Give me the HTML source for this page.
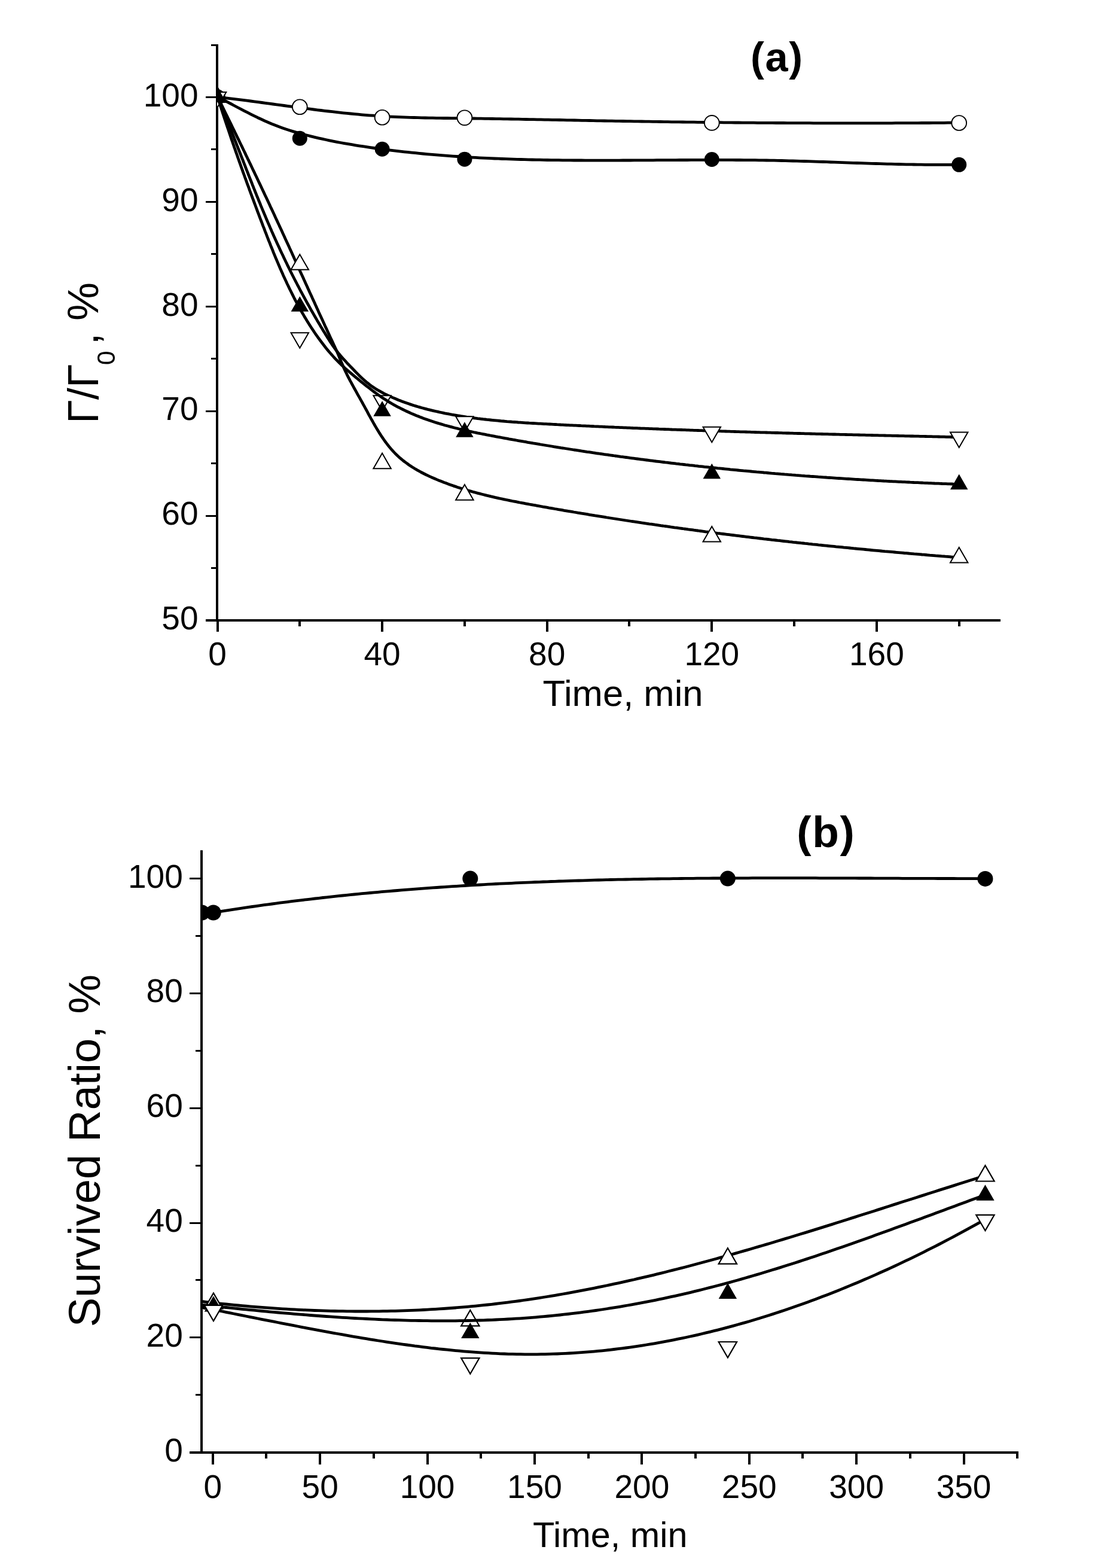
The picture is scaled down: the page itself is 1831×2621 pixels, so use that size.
<!DOCTYPE html>
<html><head><meta charset="utf-8"><title>Figure</title>
<style>html,body{margin:0;padding:0;background:#fff;}svg{display:block;}</style></head><body>
<svg width="1831" height="2621" viewBox="0 0 1831 2621">
<rect x="0" y="0" width="1831" height="2621" fill="#fff"/>
<defs><clipPath id="clipA"><rect x="363" y="60" width="1320" height="980"/></clipPath><clipPath id="clipB"><rect x="337" y="1400" width="1370" height="1030"/></clipPath></defs>
<g stroke="#000" fill="none" stroke-linecap="butt">
<line x1="363" y1="74" x2="363" y2="1039" stroke-width="4"/>
<line x1="344" y1="1037" x2="1673" y2="1037" stroke-width="4"/>
<line x1="344" y1="1036.5" x2="363" y2="1036.5" stroke-width="3"/>
<line x1="344" y1="862.5" x2="363" y2="862.5" stroke-width="3"/>
<line x1="344" y1="687.5" x2="363" y2="687.5" stroke-width="3"/>
<line x1="344" y1="512.5" x2="363" y2="512.5" stroke-width="3"/>
<line x1="344" y1="337.5" x2="363" y2="337.5" stroke-width="3"/>
<line x1="344" y1="162.5" x2="363" y2="162.5" stroke-width="3"/>
<line x1="353" y1="949.5" x2="363" y2="949.5" stroke-width="3"/>
<line x1="353" y1="774.5" x2="363" y2="774.5" stroke-width="3"/>
<line x1="353" y1="599.5" x2="363" y2="599.5" stroke-width="3"/>
<line x1="353" y1="424.5" x2="363" y2="424.5" stroke-width="3"/>
<line x1="353" y1="249.5" x2="363" y2="249.5" stroke-width="3"/>
<line x1="353" y1="75.5" x2="363" y2="75.5" stroke-width="3"/>
<line x1="364.0" y1="1037" x2="364.0" y2="1056" stroke-width="4"/>
<line x1="639.0" y1="1037" x2="639.0" y2="1056" stroke-width="4"/>
<line x1="915.0" y1="1037" x2="915.0" y2="1056" stroke-width="4"/>
<line x1="1190.0" y1="1037" x2="1190.0" y2="1056" stroke-width="4"/>
<line x1="1466.0" y1="1037" x2="1466.0" y2="1056" stroke-width="4"/>
<line x1="501.0" y1="1037" x2="501.0" y2="1047" stroke-width="4"/>
<line x1="777.0" y1="1037" x2="777.0" y2="1047" stroke-width="4"/>
<line x1="1052.0" y1="1037" x2="1052.0" y2="1047" stroke-width="4"/>
<line x1="1328.0" y1="1037" x2="1328.0" y2="1047" stroke-width="4"/>
<line x1="1604.0" y1="1037" x2="1604.0" y2="1047" stroke-width="4"/>
</g>
<g font-family="Liberation Sans, Arial, Helvetica, sans-serif" font-size="55" fill="#000">
<text x="331.5" y="1052.20" text-anchor="end">50</text>
<text x="331.5" y="877.30" text-anchor="end">60</text>
<text x="331.5" y="702.40" text-anchor="end">70</text>
<text x="331.5" y="527.50" text-anchor="end">80</text>
<text x="331.5" y="352.60" text-anchor="end">90</text>
<text x="331.5" y="177.70" text-anchor="end">100</text>
<text x="363.50" y="1112" text-anchor="middle">0</text>
<text x="639.10" y="1112" text-anchor="middle">40</text>
<text x="914.70" y="1112" text-anchor="middle">80</text>
<text x="1190.30" y="1112" text-anchor="middle">120</text>
<text x="1465.90" y="1112" text-anchor="middle">160</text>
</g>
<text font-family="Liberation Sans, Arial, Helvetica, sans-serif" font-size="61.6" x="1041.6" y="1180" text-anchor="middle">Time, min</text>
<text font-family="Liberation Sans, Arial, Helvetica, sans-serif" font-size="68.5" font-weight="bold" letter-spacing="1.6" x="1299.3" y="118.6" text-anchor="middle">(a)</text>
<text font-family="Liberation Sans, Arial, Helvetica, sans-serif" font-size="72" transform="translate(164,708) rotate(-90)">Γ/Γ<tspan font-size="43.2" dy="27.5" dx="-1.5">0</tspan><tspan dy="-27.5" x="131.5">,</tspan><tspan x="172">%</tspan></text>
<g clip-path="url(#clipA)">
<path d="M363.5,162.3 L369.7,163.0 L375.9,163.7 L382.1,164.4 L388.3,165.1 L394.5,165.9 L400.7,166.6 L406.9,167.4 L413.1,168.2 L419.3,169.0 L425.5,169.8 L431.7,170.6 L437.9,171.5 L444.0,172.3 L450.2,173.1 L456.4,174.0 L462.6,174.8 L468.8,175.6 L475.0,176.5 L481.2,177.3 L487.4,178.1 L493.6,179.0 L499.8,179.8 L505.9,180.6 L512.1,181.4 L518.3,182.2 L524.5,183.0 L530.7,183.8 L536.9,184.5 L543.1,185.3 L549.3,186.0 L555.5,186.7 L561.7,187.4 L567.9,188.1 L574.1,188.8 L580.3,189.4 L586.5,190.0 L592.7,190.6 L598.9,191.2 L605.1,191.8 L611.3,192.3 L617.6,192.8 L623.8,193.2 L630.0,193.7 L636.2,194.1 L642.4,194.5 L648.7,194.8 L654.9,195.1 L661.1,195.4 L667.3,195.7 L673.6,195.9 L679.8,196.2 L686.0,196.4 L692.3,196.5 L698.5,196.7 L704.7,196.8 L711.0,197.0 L717.2,197.1 L723.4,197.2 L729.7,197.3 L735.9,197.4 L742.2,197.5 L748.4,197.5 L754.6,197.6 L760.9,197.7 L767.1,197.7 L773.4,197.8 L779.6,197.9 L785.9,198.0 L792.1,198.0 L798.3,198.1 L804.6,198.2 L810.8,198.3 L817.1,198.4 L823.3,198.5 L829.6,198.6 L835.8,198.7 L842.1,198.8 L848.3,198.9 L854.5,199.0 L860.8,199.1 L867.0,199.2 L873.3,199.3 L879.5,199.5 L885.8,199.6 L892.0,199.7 L898.2,199.8 L904.5,199.9 L910.7,200.1 L917.0,200.2 L923.2,200.3 L929.5,200.4 L935.7,200.5 L942.0,200.7 L948.2,200.8 L954.4,200.9 L960.7,201.0 L966.9,201.2 L973.2,201.3 L979.4,201.4 L985.7,201.5 L991.9,201.6 L998.1,201.8 L1004.4,201.9 L1010.6,202.0 L1016.9,202.1 L1023.1,202.2 L1029.4,202.3 L1035.6,202.4 L1041.8,202.5 L1048.1,202.6 L1054.3,202.7 L1060.6,202.8 L1066.8,202.9 L1073.1,203.0 L1079.3,203.1 L1085.5,203.2 L1091.8,203.3 L1098.0,203.4 L1104.3,203.5 L1110.5,203.6 L1116.8,203.7 L1123.0,203.8 L1129.2,203.8 L1135.5,203.9 L1141.7,204.0 L1148.0,204.1 L1154.2,204.2 L1160.5,204.2 L1166.7,204.3 L1172.9,204.4 L1179.2,204.5 L1185.4,204.5 L1191.7,204.6 L1197.9,204.7 L1204.1,204.7 L1210.4,204.8 L1216.6,204.8 L1222.9,204.9 L1229.1,205.0 L1235.4,205.0 L1241.6,205.1 L1247.8,205.1 L1254.1,205.2 L1260.3,205.2 L1266.6,205.3 L1272.8,205.3 L1279.1,205.4 L1285.3,205.4 L1291.5,205.4 L1297.8,205.5 L1304.0,205.5 L1310.3,205.5 L1316.5,205.6 L1322.7,205.6 L1329.0,205.6 L1335.2,205.7 L1341.5,205.7 L1347.7,205.7 L1354.0,205.7 L1360.2,205.8 L1366.4,205.8 L1372.7,205.8 L1378.9,205.8 L1385.2,205.8 L1391.4,205.8 L1397.7,205.8 L1403.9,205.8 L1410.1,205.9 L1416.4,205.9 L1422.6,205.9 L1428.9,205.9 L1435.1,205.9 L1441.4,205.9 L1447.6,205.8 L1453.8,205.8 L1460.1,205.8 L1466.3,205.8 L1472.6,205.8 L1478.8,205.8 L1485.1,205.8 L1491.3,205.8 L1497.5,205.7 L1503.8,205.7 L1510.0,205.7 L1516.3,205.7 L1522.5,205.6 L1528.8,205.6 L1535.0,205.6 L1541.3,205.5 L1547.5,205.5 L1553.7,205.5 L1560.0,205.4 L1566.2,205.4 L1572.5,205.3 L1578.7,205.3 L1585.0,205.2 L1591.2,205.2 L1597.5,205.1 L1603.7,205.1" fill="none" stroke="#000" stroke-width="4.8" stroke-linejoin="round"/>
<circle cx="363.50" cy="162.50" r="12.40" fill="#fff" stroke="#000" stroke-width="1.9"/>
<circle cx="501.30" cy="178.75" r="12.40" fill="#fff" stroke="#000" stroke-width="1.9"/>
<circle cx="639.10" cy="196.25" r="12.40" fill="#fff" stroke="#000" stroke-width="1.9"/>
<circle cx="776.90" cy="196.80" r="12.40" fill="#fff" stroke="#000" stroke-width="1.9"/>
<circle cx="1190.30" cy="205.40" r="12.40" fill="#fff" stroke="#000" stroke-width="1.9"/>
<circle cx="1603.70" cy="205.50" r="12.40" fill="#fff" stroke="#000" stroke-width="1.9"/>
<path d="M363.9,161.7 L369.4,164.6 L375.0,167.6 L380.5,170.6 L386.1,173.5 L391.6,176.5 L397.2,179.5 L402.8,182.4 L408.4,185.3 L414.1,188.2 L419.7,191.1 L425.4,193.9 L431.1,196.7 L436.8,199.3 L442.5,202.0 L448.3,204.5 L454.1,207.0 L460.0,209.3 L465.8,211.6 L471.7,213.7 L477.7,215.8 L483.7,217.7 L489.7,219.6 L495.7,221.4 L501.8,223.1 L507.9,224.7 L514.0,226.3 L520.1,227.9 L526.2,229.4 L532.4,230.8 L538.5,232.2 L544.7,233.5 L550.9,234.8 L557.1,236.1 L563.3,237.3 L569.5,238.5 L575.7,239.6 L582.0,240.7 L588.2,241.7 L594.5,242.8 L600.7,243.8 L607.0,244.7 L613.2,245.7 L619.5,246.6 L625.8,247.5 L632.0,248.3 L638.3,249.2 L644.6,250.0 L650.8,250.8 L657.1,251.6 L663.4,252.3 L669.7,253.1 L675.9,253.8 L682.2,254.4 L688.5,255.1 L694.8,255.7 L701.1,256.4 L707.4,257.0 L713.6,257.6 L719.9,258.1 L726.2,258.7 L732.5,259.2 L738.8,259.7 L745.1,260.2 L751.4,260.6 L757.7,261.1 L764.0,261.5 L770.3,261.9 L776.6,262.3 L782.8,262.7 L789.1,263.1 L795.4,263.4 L801.7,263.8 L808.0,264.1 L814.3,264.4 L820.6,264.7 L827.0,265.0 L833.3,265.2 L839.6,265.5 L845.9,265.7 L852.2,265.9 L858.5,266.1 L864.8,266.3 L871.1,266.5 L877.4,266.7 L883.7,266.8 L890.0,267.0 L896.3,267.1 L902.6,267.2 L909.0,267.4 L915.3,267.5 L921.6,267.6 L927.9,267.7 L934.2,267.7 L940.5,267.8 L946.8,267.9 L953.1,267.9 L959.5,268.0 L965.8,268.0 L972.1,268.0 L978.4,268.1 L984.7,268.1 L991.0,268.1 L997.4,268.1 L1003.7,268.1 L1010.0,268.1 L1016.3,268.1 L1022.6,268.1 L1029.0,268.1 L1035.3,268.1 L1041.6,268.0 L1047.9,268.0 L1054.2,268.0 L1060.6,267.9 L1066.9,267.9 L1073.2,267.9 L1079.5,267.8 L1085.8,267.8 L1092.2,267.8 L1098.5,267.7 L1104.8,267.7 L1111.1,267.7 L1117.4,267.6 L1123.8,267.6 L1130.1,267.6 L1136.4,267.5 L1142.7,267.5 L1149.0,267.5 L1155.4,267.4 L1161.7,267.4 L1168.0,267.4 L1174.3,267.4 L1180.6,267.4 L1187.0,267.4 L1193.3,267.4 L1199.6,267.4 L1205.9,267.4 L1212.2,267.4 L1218.6,267.4 L1224.9,267.4 L1231.2,267.5 L1237.5,267.5 L1243.8,267.6 L1250.1,267.6 L1256.5,267.7 L1262.8,267.7 L1269.1,267.8 L1275.4,267.9 L1281.7,268.0 L1288.0,268.1 L1294.3,268.2 L1300.7,268.4 L1307.0,268.5 L1313.3,268.6 L1319.6,268.8 L1325.9,269.0 L1332.2,269.1 L1338.5,269.3 L1344.8,269.5 L1351.2,269.7 L1357.5,269.9 L1363.8,270.1 L1370.1,270.3 L1376.4,270.5 L1382.7,270.7 L1389.0,271.0 L1395.3,271.2 L1401.6,271.4 L1407.9,271.6 L1414.2,271.8 L1420.6,272.1 L1426.9,272.3 L1433.2,272.5 L1439.5,272.7 L1445.8,272.9 L1452.1,273.1 L1458.4,273.3 L1464.7,273.5 L1471.0,273.7 L1477.4,273.9 L1483.7,274.1 L1490.0,274.2 L1496.3,274.4 L1502.6,274.5 L1508.9,274.7 L1515.2,274.8 L1521.5,274.9 L1527.9,275.0 L1534.2,275.1 L1540.5,275.2 L1546.8,275.3 L1553.1,275.4 L1559.4,275.4 L1565.8,275.4 L1572.1,275.4 L1578.4,275.4 L1584.7,275.4 L1591.1,275.4 L1597.4,275.3 L1603.7,275.2" fill="none" stroke="#000" stroke-width="4.8" stroke-linejoin="round"/>
<circle cx="363.50" cy="162.50" r="12.50" fill="#000"/>
<circle cx="501.30" cy="231.25" r="12.50" fill="#000"/>
<circle cx="639.10" cy="249.25" r="12.50" fill="#000"/>
<circle cx="776.90" cy="266.20" r="12.50" fill="#000"/>
<circle cx="1190.30" cy="266.50" r="12.50" fill="#000"/>
<circle cx="1603.70" cy="275.30" r="12.50" fill="#000"/>
<path d="M363.9,162.2 L365.4,165.2 L366.9,168.1 L368.3,171.1 L369.8,174.0 L371.2,176.9 L372.7,179.9 L374.1,182.8 L375.6,185.8 L377.0,188.7 L378.4,191.6 L379.9,194.6 L381.3,197.5 L382.8,200.5 L384.2,203.4 L385.7,206.3 L387.1,209.3 L388.5,212.2 L390.0,215.2 L391.4,218.1 L392.8,221.1 L394.3,224.0 L395.7,227.0 L397.1,229.9 L398.6,232.8 L400.0,235.8 L401.4,238.7 L402.9,241.7 L404.3,244.6 L405.7,247.6 L407.1,250.5 L408.6,253.5 L410.0,256.4 L411.4,259.4 L412.8,262.3 L414.2,265.3 L415.7,268.2 L417.1,271.2 L418.5,274.1 L419.9,277.1 L421.3,280.0 L422.7,283.0 L424.1,285.9 L425.6,288.9 L427.0,291.9 L428.4,294.8 L429.8,297.8 L431.2,300.7 L432.6,303.7 L434.0,306.6 L435.4,309.6 L436.8,312.6 L438.2,315.5 L439.6,318.5 L441.0,321.4 L442.4,324.4 L443.8,327.4 L445.2,330.3 L446.6,333.3 L448.0,336.3 L449.4,339.2 L450.8,342.2 L452.1,345.2 L453.5,348.1 L454.9,351.1 L456.3,354.1 L457.7,357.0 L459.1,360.0 L460.4,363.0 L461.8,366.0 L463.2,368.9 L464.6,371.9 L466.0,374.9 L467.3,377.9 L468.7,380.8 L470.1,383.8 L471.5,386.8 L472.8,389.8 L474.2,392.7 L475.6,395.7 L476.9,398.7 L478.3,401.7 L479.7,404.7 L481.0,407.6 L482.4,410.6 L483.8,413.6 L485.1,416.6 L486.5,419.6 L487.9,422.6 L489.2,425.5 L490.6,428.5 L491.9,431.5 L493.3,434.5 L494.7,437.5 L496.0,440.5 L497.4,443.4 L498.7,446.4 L500.1,449.4 L501.4,452.4 L502.8,455.4 L504.2,458.4 L505.5,461.3 L506.9,464.3 L508.2,467.3 L509.6,470.3 L510.9,473.3 L512.3,476.3 L513.7,479.2 L515.0,482.2 L516.4,485.2 L517.7,488.2 L519.1,491.2 L520.4,494.1 L521.8,497.1 L523.1,500.1 L524.5,503.1 L525.9,506.0 L527.2,509.0 L528.6,512.0 L529.9,515.0 L531.3,517.9 L532.6,520.9 L534.0,523.9 L535.4,526.9 L536.7,529.8 L538.1,532.8 L539.5,535.8 L540.8,538.7 L542.2,541.7 L543.5,544.7 L544.9,547.6 L546.3,550.6 L547.6,553.5 L549.0,556.5 L550.4,559.5 L551.7,562.4 L553.1,565.4 L554.5,568.3 L555.9,571.3 L557.2,574.2 L558.6,577.2 L560.0,580.1 L561.3,583.1 L562.7,586.0 L564.0,589.0 L565.3,592.0 L566.6,595.0 L567.8,598.0 L569.0,601.0 L570.2,604.0 L571.5,607.0 L572.8,610.0 L574.1,613.0 L575.4,616.0 L576.8,619.0 L578.2,622.0 L579.7,624.9 L581.1,627.9 L582.6,630.8 L584.1,633.7 L585.6,636.6 L587.2,639.4 L588.7,642.3 L590.3,645.1 L591.8,648.0 L593.4,650.8 L595.0,653.6 L596.5,656.4 L598.1,659.3 L599.7,662.1 L601.3,664.9 L602.9,667.8 L604.5,670.6 L606.1,673.5 L607.6,676.3 L609.2,679.2 L610.8,682.1 L612.4,685.0 L614.0,687.9 L615.5,690.8 L617.1,693.8 L618.7,696.7 L620.3,699.6 L622.0,702.5 L623.6,705.4 L625.2,708.3 L626.9,711.2 L628.6,714.1 L630.3,716.9 L632.0,719.8 L633.7,722.6 L635.5,725.4 L637.3,728.2 L639.1,730.9 L641.0,733.7 L642.9,736.3 L644.8,739.0 L646.8,741.6 L648.8,744.2 L650.8,746.7 L652.9,749.2 L655.0,751.7 L657.2,754.1 L659.4,756.5 L661.6,758.8 L663.9,761.0 L666.3,763.2 L668.7,765.4 L671.1,767.4 L673.6,769.5 L676.2,771.5 L678.8,773.4 L681.4,775.3 L684.0,777.2 L686.7,779.0 L689.4,780.8 L692.2,782.5 L695.0,784.2 L697.8,785.8 L700.7,787.4 L703.5,789.0 L706.4,790.5 L709.4,792.0 L712.3,793.5 L715.3,794.9 L718.3,796.3 L721.3,797.7 L724.3,799.0 L727.3,800.3 L730.4,801.6 L733.4,802.9 L736.5,804.1 L739.6,805.3 L742.6,806.5 L745.7,807.6 L748.8,808.8 L751.9,809.9 L755.0,811.0 L758.1,812.1 L761.2,813.1 L764.3,814.2 L767.5,815.2 L770.6,816.2 L773.7,817.2 L776.9,818.1 L780.0,819.1 L783.1,820.0 L786.3,820.9 L789.4,821.8 L792.6,822.7 L795.8,823.5 L798.9,824.4 L802.1,825.2 L805.3,826.0 L808.4,826.8 L811.6,827.6 L814.8,828.4 L818.0,829.1 L821.2,829.9 L824.3,830.6 L827.5,831.4 L830.7,832.1 L833.9,832.8 L837.1,833.5 L840.3,834.2 L843.5,834.8 L846.7,835.5 L850.0,836.2 L853.2,836.8 L856.4,837.5 L859.6,838.1 L862.8,838.7 L866.0,839.3 L869.2,840.0 L872.5,840.6 L875.7,841.2 L878.9,841.8 L882.1,842.4 L885.3,843.0 L888.6,843.6 L891.8,844.2 L895.0,844.7 L898.2,845.3 L901.5,845.9 L904.7,846.5 L907.9,847.1 L911.1,847.6 L914.4,848.2 L917.6,848.8 L920.8,849.3 L924.1,849.9 L927.3,850.5 L930.5,851.0 L933.7,851.6 L937.0,852.1 L940.2,852.7 L943.4,853.3 L946.7,853.8 L949.9,854.4 L953.1,854.9 L956.4,855.4 L959.6,856.0 L962.8,856.5 L966.1,857.1 L969.3,857.6 L972.5,858.2 L975.7,858.7 L979.0,859.2 L982.2,859.7 L985.5,860.3 L988.7,860.8 L991.9,861.3 L995.2,861.9 L998.4,862.4 L1001.6,862.9 L1004.9,863.4 L1008.1,863.9 L1011.3,864.4 L1014.6,865.0 L1017.8,865.5 L1021.0,866.0 L1024.3,866.5 L1027.5,867.0 L1030.8,867.5 L1034.0,868.0 L1037.2,868.5 L1040.5,869.0 L1043.7,869.5 L1046.9,870.0 L1050.2,870.5 L1053.4,871.0 L1056.7,871.5 L1059.9,871.9 L1063.1,872.4 L1066.4,872.9 L1069.6,873.4 L1072.9,873.9 L1076.1,874.3 L1079.4,874.8 L1082.6,875.3 L1085.8,875.8 L1089.1,876.2 L1092.3,876.7 L1095.6,877.2 L1098.8,877.6 L1102.0,878.1 L1105.3,878.6 L1108.5,879.0 L1111.8,879.5 L1115.0,879.9 L1118.3,880.4 L1121.5,880.9 L1124.8,881.3 L1128.0,881.8 L1131.3,882.2 L1134.5,882.7 L1137.7,883.1 L1141.0,883.5 L1144.2,884.0 L1147.5,884.4 L1150.7,884.9 L1154.0,885.3 L1157.2,885.7 L1160.5,886.2 L1163.7,886.6 L1167.0,887.0 L1170.2,887.5 L1173.5,887.9 L1176.7,888.3 L1180.0,888.8 L1183.2,889.2 L1186.5,889.6 L1189.7,890.0 L1193.0,890.4 L1196.2,890.8 L1199.5,891.3 L1202.7,891.7 L1206.0,892.1 L1209.2,892.5 L1212.5,892.9 L1215.7,893.3 L1219.0,893.7 L1222.2,894.1 L1225.5,894.5 L1228.7,894.9 L1232.0,895.3 L1235.2,895.7 L1238.5,896.1 L1241.7,896.5 L1245.0,896.9 L1248.2,897.3 L1251.5,897.7 L1254.7,898.1 L1258.0,898.5 L1261.3,898.9 L1264.5,899.2 L1267.8,899.6 L1271.0,900.0 L1274.3,900.4 L1277.5,900.8 L1280.8,901.1 L1284.0,901.5 L1287.3,901.9 L1290.5,902.3 L1293.8,902.6 L1297.1,903.0 L1300.3,903.4 L1303.6,903.7 L1306.8,904.1 L1310.1,904.5 L1313.3,904.8 L1316.6,905.2 L1319.9,905.6 L1323.1,905.9 L1326.4,906.3 L1329.6,906.6 L1332.9,907.0 L1336.1,907.3 L1339.4,907.7 L1342.7,908.0 L1345.9,908.4 L1349.2,908.7 L1352.4,909.1 L1355.7,909.4 L1359.0,909.8 L1362.2,910.1 L1365.5,910.4 L1368.7,910.8 L1372.0,911.1 L1375.2,911.5 L1378.5,911.8 L1381.8,912.1 L1385.0,912.5 L1388.3,912.8 L1391.6,913.1 L1394.8,913.4 L1398.1,913.8 L1401.3,914.1 L1404.6,914.4 L1407.9,914.7 L1411.1,915.1 L1414.4,915.4 L1417.6,915.7 L1420.9,916.0 L1424.2,916.3 L1427.4,916.7 L1430.7,917.0 L1433.9,917.3 L1437.2,917.6 L1440.5,917.9 L1443.7,918.2 L1447.0,918.5 L1450.3,918.8 L1453.5,919.1 L1456.8,919.5 L1460.0,919.8 L1463.3,920.1 L1466.6,920.4 L1469.8,920.7 L1473.1,921.0 L1476.4,921.3 L1479.6,921.6 L1482.9,921.8 L1486.2,922.1 L1489.4,922.4 L1492.7,922.7 L1495.9,923.0 L1499.2,923.3 L1502.5,923.6 L1505.7,923.9 L1509.0,924.2 L1512.3,924.5 L1515.5,924.7 L1518.8,925.0 L1522.1,925.3 L1525.3,925.6 L1528.6,925.9 L1531.9,926.1 L1535.1,926.4 L1538.4,926.7 L1541.7,927.0 L1544.9,927.2 L1548.2,927.5 L1551.5,927.8 L1554.7,928.1 L1558.0,928.3 L1561.3,928.6 L1564.5,928.9 L1567.8,929.1 L1571.0,929.4 L1574.3,929.7 L1577.6,929.9 L1580.8,930.2 L1584.1,930.4 L1587.4,930.7 L1590.6,931.0 L1593.9,931.2 L1597.2,931.5 L1600.4,931.7 L1603.7,932.0" fill="none" stroke="#000" stroke-width="4.8" stroke-linejoin="round"/>
<path d="M363.50,145.47 L378.25,171.02 L348.75,171.02 Z" fill="#fff" stroke="#000" stroke-width="2.0" stroke-linejoin="miter"/>
<path d="M501.30,425.31 L516.05,450.86 L486.55,450.86 Z" fill="#fff" stroke="#000" stroke-width="2.0" stroke-linejoin="miter"/>
<path d="M639.10,757.62 L653.85,783.17 L624.35,783.17 Z" fill="#fff" stroke="#000" stroke-width="2.0" stroke-linejoin="miter"/>
<path d="M776.90,810.09 L791.65,835.64 L762.15,835.64 Z" fill="#fff" stroke="#000" stroke-width="2.0" stroke-linejoin="miter"/>
<path d="M1190.30,880.05 L1205.05,905.60 L1175.55,905.60 Z" fill="#fff" stroke="#000" stroke-width="2.0" stroke-linejoin="miter"/>
<path d="M1603.70,915.03 L1618.45,940.58 L1588.95,940.58 Z" fill="#fff" stroke="#000" stroke-width="2.0" stroke-linejoin="miter"/>
<path d="M363.6,162.4 L364.9,165.3 L366.1,168.1 L367.3,171.0 L368.5,173.9 L369.7,176.7 L370.9,179.6 L372.0,182.4 L373.2,185.3 L374.4,188.2 L375.6,191.0 L376.8,193.9 L377.9,196.8 L379.1,199.6 L380.2,202.5 L381.4,205.4 L382.6,208.2 L383.7,211.1 L384.9,214.0 L386.0,216.9 L387.2,219.7 L388.3,222.6 L389.4,225.5 L390.6,228.4 L391.7,231.3 L392.8,234.1 L394.0,237.0 L395.1,239.9 L396.2,242.8 L397.4,245.7 L398.5,248.6 L399.6,251.4 L400.8,254.3 L401.9,257.2 L403.0,260.1 L404.1,263.0 L405.3,265.9 L406.4,268.7 L407.5,271.6 L408.6,274.5 L409.8,277.4 L410.9,280.3 L412.0,283.2 L413.2,286.1 L414.3,288.9 L415.4,291.8 L416.5,294.7 L417.7,297.6 L418.8,300.5 L420.0,303.3 L421.1,306.2 L422.2,309.1 L423.4,312.0 L424.5,314.9 L425.7,317.7 L426.8,320.6 L428.0,323.5 L429.1,326.4 L430.3,329.2 L431.5,332.1 L432.6,335.0 L433.8,337.8 L435.0,340.7 L436.1,343.6 L437.3,346.4 L438.5,349.3 L439.7,352.2 L440.9,355.0 L442.1,357.9 L443.3,360.7 L444.5,363.6 L445.7,366.5 L446.9,369.3 L448.1,372.1 L449.4,375.0 L450.6,377.8 L451.8,380.7 L453.1,383.5 L454.3,386.4 L455.6,389.2 L456.8,392.0 L458.1,394.9 L459.4,397.7 L460.6,400.5 L461.9,403.3 L463.2,406.2 L464.5,409.0 L465.8,411.8 L467.1,414.6 L468.4,417.4 L469.7,420.2 L471.0,423.0 L472.4,425.8 L473.7,428.6 L475.0,431.4 L476.4,434.2 L477.7,437.0 L479.1,439.8 L480.4,442.6 L481.8,445.4 L483.2,448.2 L484.6,450.9 L485.9,453.7 L487.3,456.5 L488.7,459.3 L490.1,462.0 L491.5,464.8 L492.9,467.5 L494.4,470.3 L495.8,473.0 L497.2,475.8 L498.7,478.5 L500.1,481.3 L501.5,484.0 L503.0,486.8 L504.5,489.5 L505.9,492.2 L507.4,494.9 L508.9,497.7 L510.4,500.4 L511.9,503.1 L513.4,505.8 L514.9,508.5 L516.4,511.2 L517.9,513.9 L519.4,516.6 L520.9,519.3 L522.5,522.0 L524.0,524.7 L525.5,527.3 L527.1,530.0 L528.7,532.7 L530.2,535.4 L531.8,538.0 L533.4,540.7 L535.0,543.3 L536.5,546.0 L538.1,548.6 L539.7,551.3 L541.3,553.9 L543.0,556.5 L544.6,559.2 L546.2,561.8 L547.8,564.4 L549.5,567.0 L551.1,569.6 L552.8,572.2 L554.5,574.8 L556.2,577.4 L558.0,579.9 L559.8,582.4 L561.6,584.9 L563.5,587.3 L565.4,589.7 L567.4,592.1 L569.4,594.5 L571.4,596.8 L573.4,599.1 L575.5,601.4 L577.6,603.7 L579.7,606.0 L581.8,608.3 L584.0,610.5 L586.1,612.8 L588.3,615.0 L590.4,617.2 L592.6,619.5 L594.7,621.7 L596.9,623.9 L599.1,626.1 L601.2,628.2 L603.5,630.4 L605.7,632.5 L608.0,634.6 L610.3,636.6 L612.6,638.6 L615.0,640.5 L617.4,642.4 L619.8,644.3 L622.3,646.1 L624.9,647.8 L627.5,649.5 L630.1,651.1 L632.8,652.7 L635.5,654.2 L638.2,655.7 L640.9,657.2 L643.7,658.6 L646.5,659.9 L649.3,661.3 L652.1,662.6 L655.0,663.9 L657.8,665.1 L660.7,666.3 L663.5,667.5 L666.4,668.7 L669.3,669.8 L672.2,670.9 L675.1,672.0 L678.0,673.1 L680.9,674.1 L683.8,675.1 L686.8,676.1 L689.7,677.1 L692.7,678.0 L695.6,678.9 L698.6,679.8 L701.6,680.6 L704.6,681.5 L707.5,682.3 L710.5,683.1 L713.5,683.9 L716.5,684.7 L719.5,685.4 L722.5,686.1 L725.6,686.8 L728.6,687.5 L731.6,688.2 L734.6,688.9 L737.7,689.5 L740.7,690.1 L743.7,690.8 L746.8,691.4 L749.8,691.9 L752.8,692.5 L755.9,693.1 L758.9,693.6 L762.0,694.1 L765.0,694.7 L768.1,695.2 L771.1,695.7 L774.2,696.1 L777.2,696.6 L780.3,697.1 L783.3,697.5 L786.4,697.9 L789.5,698.4 L792.5,698.8 L795.6,699.2 L798.7,699.6 L801.7,699.9 L804.8,700.3 L807.9,700.7 L811.0,701.0 L814.0,701.4 L817.1,701.7 L820.2,702.0 L823.3,702.3 L826.4,702.6 L829.4,702.9 L832.5,703.2 L835.6,703.5 L838.7,703.8 L841.8,704.0 L844.9,704.3 L848.0,704.6 L851.0,704.8 L854.1,705.0 L857.2,705.3 L860.3,705.5 L863.4,705.7 L866.5,706.0 L869.6,706.2 L872.7,706.4 L875.8,706.6 L878.9,706.8 L882.0,707.0 L885.1,707.2 L888.2,707.3 L891.3,707.5 L894.4,707.7 L897.5,707.9 L900.6,708.1 L903.7,708.2 L906.8,708.4 L909.9,708.6 L913.0,708.7 L916.1,708.9 L919.2,709.0 L922.3,709.2 L925.4,709.4 L928.5,709.5 L931.6,709.7 L934.7,709.8 L937.8,710.0 L940.9,710.1 L944.0,710.3 L947.1,710.5 L950.2,710.6 L953.3,710.8 L956.4,710.9 L959.5,711.1 L962.6,711.2 L965.7,711.4 L968.8,711.5 L971.9,711.7 L975.0,711.8 L978.1,711.9 L981.2,712.1 L984.3,712.2 L987.4,712.4 L990.5,712.5 L993.6,712.7 L996.7,712.8 L999.7,712.9 L1002.8,713.1 L1005.9,713.2 L1009.0,713.3 L1012.1,713.5 L1015.2,713.6 L1018.3,713.8 L1021.4,713.9 L1024.5,714.0 L1027.6,714.2 L1030.7,714.3 L1033.8,714.4 L1036.9,714.6 L1040.0,714.7 L1043.1,714.8 L1046.2,714.9 L1049.3,715.1 L1052.4,715.2 L1055.5,715.3 L1058.6,715.5 L1061.7,715.6 L1064.8,715.7 L1067.9,715.8 L1071.0,716.0 L1074.1,716.1 L1077.2,716.2 L1080.3,716.3 L1083.4,716.4 L1086.5,716.6 L1089.6,716.7 L1092.7,716.8 L1095.8,716.9 L1098.9,717.0 L1102.0,717.2 L1105.1,717.3 L1108.1,717.4 L1111.2,717.5 L1114.3,717.6 L1117.4,717.7 L1120.5,717.8 L1123.6,718.0 L1126.7,718.1 L1129.8,718.2 L1132.9,718.3 L1136.0,718.4 L1139.1,718.5 L1142.2,718.6 L1145.3,718.7 L1148.4,718.8 L1151.5,718.9 L1154.6,719.1 L1157.7,719.2 L1160.8,719.3 L1163.9,719.4 L1167.0,719.5 L1170.1,719.6 L1173.2,719.7 L1176.3,719.8 L1179.4,719.9 L1182.5,720.0 L1185.5,720.1 L1188.6,720.2 L1191.7,720.3 L1194.8,720.4 L1197.9,720.5 L1201.0,720.6 L1204.1,720.7 L1207.2,720.8 L1210.3,720.9 L1213.4,721.0 L1216.5,721.1 L1219.6,721.2 L1222.7,721.3 L1225.8,721.4 L1228.9,721.5 L1232.0,721.6 L1235.1,721.7 L1238.2,721.8 L1241.3,721.8 L1244.4,721.9 L1247.5,722.0 L1250.6,722.1 L1253.7,722.2 L1256.8,722.3 L1259.8,722.4 L1262.9,722.5 L1266.0,722.6 L1269.1,722.7 L1272.2,722.8 L1275.3,722.8 L1278.4,722.9 L1281.5,723.0 L1284.6,723.1 L1287.7,723.2 L1290.8,723.3 L1293.9,723.4 L1297.0,723.5 L1300.1,723.5 L1303.2,723.6 L1306.3,723.7 L1309.4,723.8 L1312.5,723.9 L1315.6,724.0 L1318.7,724.0 L1321.8,724.1 L1324.9,724.2 L1328.0,724.3 L1331.1,724.4 L1334.1,724.5 L1337.2,724.5 L1340.3,724.6 L1343.4,724.7 L1346.5,724.8 L1349.6,724.9 L1352.7,724.9 L1355.8,725.0 L1358.9,725.1 L1362.0,725.2 L1365.1,725.3 L1368.2,725.3 L1371.3,725.4 L1374.4,725.5 L1377.5,725.6 L1380.6,725.6 L1383.7,725.7 L1386.8,725.8 L1389.9,725.9 L1393.0,726.0 L1396.1,726.0 L1399.2,726.1 L1402.3,726.2 L1405.4,726.3 L1408.5,726.3 L1411.6,726.4 L1414.7,726.5 L1417.8,726.6 L1420.9,726.6 L1424.0,726.7 L1427.1,726.8 L1430.1,726.8 L1433.2,726.9 L1436.3,727.0 L1439.4,727.1 L1442.5,727.1 L1445.6,727.2 L1448.7,727.3 L1451.8,727.4 L1454.9,727.4 L1458.0,727.5 L1461.1,727.6 L1464.2,727.6 L1467.3,727.7 L1470.4,727.8 L1473.5,727.9 L1476.6,727.9 L1479.7,728.0 L1482.8,728.1 L1485.9,728.1 L1489.0,728.2 L1492.1,728.3 L1495.2,728.3 L1498.3,728.4 L1501.4,728.5 L1504.5,728.6 L1507.6,728.6 L1510.7,728.7 L1513.8,728.8 L1516.9,728.8 L1520.0,728.9 L1523.1,729.0 L1526.2,729.0 L1529.3,729.1 L1532.4,729.2 L1535.5,729.2 L1538.6,729.3 L1541.7,729.4 L1544.8,729.4 L1547.9,729.5 L1551.0,729.6 L1554.1,729.6 L1557.2,729.7 L1560.3,729.8 L1563.4,729.9 L1566.5,729.9 L1569.6,730.0 L1572.7,730.1 L1575.8,730.1 L1578.9,730.2 L1582.0,730.3 L1585.1,730.3 L1588.2,730.4 L1591.3,730.5 L1594.4,730.5 L1597.5,730.6 L1600.6,730.7 L1603.7,730.7" fill="none" stroke="#000" stroke-width="4.8" stroke-linejoin="round"/>
<path d="M363.50,179.53 L378.25,153.98 L348.75,153.98 Z" fill="#fff" stroke="#000" stroke-width="2.0" stroke-linejoin="miter"/>
<path d="M501.30,581.80 L516.05,556.25 L486.55,556.25 Z" fill="#fff" stroke="#000" stroke-width="2.0" stroke-linejoin="miter"/>
<path d="M639.10,686.74 L653.85,661.19 L624.35,661.19 Z" fill="#fff" stroke="#000" stroke-width="2.0" stroke-linejoin="miter"/>
<path d="M776.90,721.72 L791.65,696.17 L762.15,696.17 Z" fill="#fff" stroke="#000" stroke-width="2.0" stroke-linejoin="miter"/>
<path d="M1190.30,739.21 L1205.05,713.66 L1175.55,713.66 Z" fill="#fff" stroke="#000" stroke-width="2.0" stroke-linejoin="miter"/>
<path d="M1603.70,747.96 L1618.45,722.41 L1588.95,722.41 Z" fill="#fff" stroke="#000" stroke-width="2.0" stroke-linejoin="miter"/>
<path d="M363.8,162.3 L364.7,165.3 L365.7,168.3 L366.7,171.3 L367.7,174.3 L368.6,177.3 L369.6,180.3 L370.6,183.3 L371.6,186.3 L372.5,189.3 L373.5,192.3 L374.5,195.2 L375.5,198.2 L376.5,201.2 L377.5,204.2 L378.5,207.2 L379.5,210.2 L380.5,213.1 L381.5,216.1 L382.5,219.1 L383.5,222.1 L384.5,225.0 L385.5,228.0 L386.5,231.0 L387.5,233.9 L388.6,236.9 L389.6,239.9 L390.6,242.8 L391.6,245.8 L392.7,248.7 L393.7,251.7 L394.7,254.7 L395.8,257.6 L396.8,260.6 L397.8,263.5 L398.9,266.5 L399.9,269.4 L401.0,272.4 L402.0,275.3 L403.1,278.3 L404.1,281.2 L405.2,284.2 L406.2,287.1 L407.3,290.1 L408.4,293.0 L409.4,296.0 L410.5,298.9 L411.6,301.9 L412.6,304.8 L413.7,307.8 L414.8,310.7 L415.9,313.6 L416.9,316.6 L418.0,319.5 L419.1,322.5 L420.2,325.4 L421.3,328.3 L422.4,331.3 L423.5,334.2 L424.6,337.2 L425.7,340.1 L426.8,343.0 L427.9,346.0 L429.0,348.9 L430.1,351.9 L431.2,354.8 L432.3,357.7 L433.4,360.7 L434.5,363.6 L435.6,366.5 L436.8,369.5 L437.9,372.4 L439.0,375.4 L440.1,378.3 L441.3,381.2 L442.4,384.2 L443.5,387.1 L444.7,390.0 L445.8,393.0 L446.9,395.9 L448.1,398.8 L449.2,401.8 L450.4,404.7 L451.6,407.6 L452.7,410.6 L453.9,413.5 L455.1,416.4 L456.3,419.3 L457.4,422.3 L458.6,425.2 L459.8,428.1 L461.0,431.0 L462.3,433.9 L463.5,436.8 L464.7,439.7 L465.9,442.6 L467.2,445.5 L468.4,448.4 L469.7,451.3 L471.0,454.2 L472.3,457.0 L473.5,459.9 L474.8,462.8 L476.1,465.6 L477.5,468.5 L478.8,471.3 L480.1,474.2 L481.5,477.0 L482.8,479.8 L484.2,482.7 L485.6,485.5 L487.0,488.3 L488.4,491.1 L489.8,493.9 L491.2,496.7 L492.6,499.5 L494.1,502.3 L495.5,505.0 L497.0,507.8 L498.5,510.5 L500.0,513.3 L501.5,516.0 L503.1,518.8 L504.6,521.5 L506.2,524.2 L507.8,526.9 L509.3,529.6 L511.0,532.3 L512.6,534.9 L514.2,537.6 L515.9,540.3 L517.5,542.9 L519.2,545.5 L520.9,548.2 L522.7,550.8 L524.4,553.4 L526.1,556.0 L527.9,558.6 L529.7,561.1 L531.5,563.7 L533.4,566.2 L535.2,568.8 L537.1,571.3 L539.0,573.8 L540.9,576.3 L542.8,578.8 L544.7,581.2 L546.7,583.7 L548.7,586.1 L550.7,588.5 L552.7,590.8 L554.8,593.2 L556.9,595.5 L559.0,597.8 L561.1,600.1 L563.3,602.3 L565.5,604.5 L567.7,606.7 L569.9,608.9 L572.1,611.0 L574.4,613.1 L576.7,615.2 L579.0,617.2 L581.4,619.3 L583.7,621.3 L586.1,623.3 L588.5,625.3 L590.9,627.3 L593.3,629.3 L595.7,631.3 L598.2,633.3 L600.6,635.3 L603.0,637.3 L605.5,639.3 L608.0,641.3 L610.5,643.3 L612.9,645.3 L615.4,647.2 L618.0,649.2 L620.5,651.1 L623.0,653.1 L625.6,655.0 L628.1,656.9 L630.7,658.7 L633.3,660.6 L635.9,662.4 L638.5,664.2 L641.1,665.9 L643.7,667.6 L646.4,669.3 L649.1,671.0 L651.7,672.6 L654.4,674.2 L657.1,675.8 L659.9,677.3 L662.6,678.8 L665.3,680.3 L668.1,681.7 L670.9,683.1 L673.7,684.5 L676.5,685.9 L679.3,687.2 L682.1,688.5 L684.9,689.8 L687.7,691.1 L690.6,692.3 L693.5,693.5 L696.3,694.7 L699.2,695.8 L702.1,697.0 L705.0,698.1 L707.9,699.2 L710.8,700.2 L713.8,701.3 L716.7,702.3 L719.6,703.3 L722.6,704.3 L725.6,705.3 L728.5,706.2 L731.5,707.1 L734.5,708.0 L737.5,708.9 L740.5,709.8 L743.5,710.7 L746.5,711.5 L749.5,712.3 L752.5,713.1 L755.6,713.9 L758.6,714.7 L761.6,715.5 L764.7,716.2 L767.7,717.0 L770.8,717.7 L773.8,718.4 L776.9,719.1 L780.0,719.8 L783.1,720.5 L786.1,721.2 L789.2,721.8 L792.3,722.5 L795.4,723.1 L798.5,723.8 L801.6,724.4 L804.7,725.0 L807.7,725.6 L810.8,726.2 L813.9,726.9 L817.0,727.4 L820.1,728.0 L823.3,728.6 L826.4,729.2 L829.5,729.8 L832.6,730.4 L835.7,730.9 L838.8,731.5 L841.9,732.1 L845.0,732.7 L848.1,733.2 L851.2,733.8 L854.3,734.3 L857.4,734.9 L860.5,735.4 L863.6,736.0 L866.7,736.6 L869.8,737.1 L872.9,737.6 L876.0,738.2 L879.2,738.7 L882.3,739.3 L885.4,739.8 L888.5,740.3 L891.6,740.9 L894.7,741.4 L897.8,741.9 L900.9,742.4 L904.0,743.0 L907.1,743.5 L910.2,744.0 L913.3,744.5 L916.4,745.0 L919.5,745.5 L922.6,746.0 L925.8,746.6 L928.9,747.1 L932.0,747.6 L935.1,748.1 L938.2,748.6 L941.3,749.0 L944.4,749.5 L947.5,750.0 L950.6,750.5 L953.7,751.0 L956.8,751.5 L959.9,752.0 L963.0,752.4 L966.2,752.9 L969.3,753.4 L972.4,753.9 L975.5,754.3 L978.6,754.8 L981.7,755.3 L984.8,755.7 L987.9,756.2 L991.0,756.7 L994.1,757.1 L997.2,757.6 L1000.4,758.0 L1003.5,758.5 L1006.6,758.9 L1009.7,759.4 L1012.8,759.8 L1015.9,760.2 L1019.0,760.7 L1022.1,761.1 L1025.2,761.5 L1028.3,762.0 L1031.5,762.4 L1034.6,762.8 L1037.7,763.3 L1040.8,763.7 L1043.9,764.1 L1047.0,764.5 L1050.1,764.9 L1053.2,765.4 L1056.4,765.8 L1059.5,766.2 L1062.6,766.6 L1065.7,767.0 L1068.8,767.4 L1071.9,767.8 L1075.0,768.2 L1078.1,768.6 L1081.3,769.0 L1084.4,769.4 L1087.5,769.8 L1090.6,770.2 L1093.7,770.6 L1096.8,771.0 L1099.9,771.3 L1103.0,771.7 L1106.2,772.1 L1109.3,772.5 L1112.4,772.9 L1115.5,773.2 L1118.6,773.6 L1121.7,774.0 L1124.8,774.3 L1128.0,774.7 L1131.1,775.1 L1134.2,775.4 L1137.3,775.8 L1140.4,776.1 L1143.5,776.5 L1146.7,776.9 L1149.8,777.2 L1152.9,777.6 L1156.0,777.9 L1159.1,778.2 L1162.2,778.6 L1165.4,778.9 L1168.5,779.3 L1171.6,779.6 L1174.7,779.9 L1177.8,780.3 L1180.9,780.6 L1184.1,780.9 L1187.2,781.3 L1190.3,781.6 L1193.4,781.9 L1196.5,782.2 L1199.7,782.6 L1202.8,782.9 L1205.9,783.2 L1209.0,783.5 L1212.1,783.8 L1215.2,784.1 L1218.4,784.4 L1221.5,784.8 L1224.6,785.1 L1227.7,785.4 L1230.9,785.7 L1234.0,786.0 L1237.1,786.3 L1240.2,786.6 L1243.3,786.9 L1246.5,787.1 L1249.6,787.4 L1252.7,787.7 L1255.8,788.0 L1258.9,788.3 L1262.1,788.6 L1265.2,788.9 L1268.3,789.1 L1271.4,789.4 L1274.6,789.7 L1277.7,790.0 L1280.8,790.2 L1283.9,790.5 L1287.1,790.8 L1290.2,791.1 L1293.3,791.3 L1296.4,791.6 L1299.6,791.8 L1302.7,792.1 L1305.8,792.4 L1308.9,792.6 L1312.1,792.9 L1315.2,793.1 L1318.3,793.4 L1321.4,793.6 L1324.6,793.9 L1327.7,794.1 L1330.8,794.4 L1333.9,794.6 L1337.1,794.8 L1340.2,795.1 L1343.3,795.3 L1346.4,795.6 L1349.6,795.8 L1352.7,796.0 L1355.8,796.3 L1359.0,796.5 L1362.1,796.7 L1365.2,796.9 L1368.4,797.2 L1371.5,797.4 L1374.6,797.6 L1377.7,797.8 L1380.9,798.0 L1384.0,798.3 L1387.1,798.5 L1390.3,798.7 L1393.4,798.9 L1396.5,799.1 L1399.7,799.3 L1402.8,799.5 L1405.9,799.7 L1409.1,799.9 L1412.2,800.1 L1415.3,800.3 L1418.5,800.5 L1421.6,800.7 L1424.7,800.9 L1427.9,801.1 L1431.0,801.3 L1434.1,801.5 L1437.3,801.7 L1440.4,801.9 L1443.5,802.0 L1446.7,802.2 L1449.8,802.4 L1452.9,802.6 L1456.1,802.8 L1459.2,802.9 L1462.3,803.1 L1465.5,803.3 L1468.6,803.5 L1471.8,803.6 L1474.9,803.8 L1478.0,804.0 L1481.2,804.1 L1484.3,804.3 L1487.5,804.5 L1490.6,804.6 L1493.7,804.8 L1496.9,804.9 L1500.0,805.1 L1503.1,805.3 L1506.3,805.4 L1509.4,805.6 L1512.6,805.7 L1515.7,805.9 L1518.9,806.0 L1522.0,806.2 L1525.1,806.3 L1528.3,806.5 L1531.4,806.6 L1534.6,806.7 L1537.7,806.9 L1540.9,807.0 L1544.0,807.2 L1547.1,807.3 L1550.3,807.4 L1553.4,807.6 L1556.6,807.7 L1559.7,807.8 L1562.9,808.0 L1566.0,808.1 L1569.2,808.2 L1572.3,808.3 L1575.4,808.5 L1578.6,808.6 L1581.7,808.7 L1584.9,808.8 L1588.0,808.9 L1591.2,809.0 L1594.3,809.2 L1597.5,809.3 L1600.6,809.4 L1603.8,809.5" fill="none" stroke="#000" stroke-width="4.8" stroke-linejoin="round"/>
<path d="M363.50,145.47 L378.25,171.02 L348.75,171.02 Z" fill="#000"/>
<path d="M501.30,495.27 L516.05,520.82 L486.55,520.82 Z" fill="#000"/>
<path d="M639.10,670.17 L653.85,695.72 L624.35,695.72 Z" fill="#000"/>
<path d="M776.90,705.15 L791.65,730.70 L762.15,730.70 Z" fill="#000"/>
<path d="M1190.30,774.76 L1205.05,800.31 L1175.55,800.31 Z" fill="#000"/>
<path d="M1603.70,792.60 L1618.45,818.15 L1588.95,818.15 Z" fill="#000"/>
</g>
<g stroke="#000" fill="none" stroke-linecap="butt">
<line x1="337" y1="1421.25" x2="337" y2="2430" stroke-width="4"/>
<line x1="317" y1="2428" x2="1703" y2="2428" stroke-width="4"/>
<line x1="317" y1="2235.5" x2="337" y2="2235.5" stroke-width="3"/>
<line x1="317" y1="2044.5" x2="337" y2="2044.5" stroke-width="3"/>
<line x1="317" y1="1852.5" x2="337" y2="1852.5" stroke-width="3"/>
<line x1="317" y1="1660.5" x2="337" y2="1660.5" stroke-width="3"/>
<line x1="317" y1="1468.5" x2="337" y2="1468.5" stroke-width="3"/>
<line x1="327" y1="2331.5" x2="337" y2="2331.5" stroke-width="3"/>
<line x1="327" y1="2139.5" x2="337" y2="2139.5" stroke-width="3"/>
<line x1="327" y1="1948.5" x2="337" y2="1948.5" stroke-width="3"/>
<line x1="327" y1="1756.5" x2="337" y2="1756.5" stroke-width="3"/>
<line x1="327" y1="1564.5" x2="337" y2="1564.5" stroke-width="3"/>
<line x1="356.0" y1="2428" x2="356.0" y2="2448" stroke-width="4"/>
<line x1="535.0" y1="2428" x2="535.0" y2="2448" stroke-width="4"/>
<line x1="715.0" y1="2428" x2="715.0" y2="2448" stroke-width="4"/>
<line x1="894.0" y1="2428" x2="894.0" y2="2448" stroke-width="4"/>
<line x1="1073.0" y1="2428" x2="1073.0" y2="2448" stroke-width="4"/>
<line x1="1253.0" y1="2428" x2="1253.0" y2="2448" stroke-width="4"/>
<line x1="1432.0" y1="2428" x2="1432.0" y2="2448" stroke-width="4"/>
<line x1="1612.0" y1="2428" x2="1612.0" y2="2448" stroke-width="4"/>
<line x1="445.0" y1="2428" x2="445.0" y2="2438" stroke-width="4"/>
<line x1="625.0" y1="2428" x2="625.0" y2="2438" stroke-width="4"/>
<line x1="804.0" y1="2428" x2="804.0" y2="2438" stroke-width="4"/>
<line x1="984.0" y1="2428" x2="984.0" y2="2438" stroke-width="4"/>
<line x1="1163.0" y1="2428" x2="1163.0" y2="2438" stroke-width="4"/>
<line x1="1342.0" y1="2428" x2="1342.0" y2="2438" stroke-width="4"/>
<line x1="1522.0" y1="2428" x2="1522.0" y2="2438" stroke-width="4"/>
<line x1="1701.0" y1="2428" x2="1701.0" y2="2438" stroke-width="4"/>
</g>
<g font-family="Liberation Sans, Arial, Helvetica, sans-serif" font-size="55" fill="#000">
<text x="305.8" y="2442.60" text-anchor="end">0</text>
<text x="305.8" y="2250.82" text-anchor="end">20</text>
<text x="305.8" y="2059.04" text-anchor="end">40</text>
<text x="305.8" y="1867.26" text-anchor="end">60</text>
<text x="305.8" y="1675.48" text-anchor="end">80</text>
<text x="305.8" y="1483.70" text-anchor="end">100</text>
<text x="355.75" y="2503.5" text-anchor="middle">0</text>
<text x="535.15" y="2503.5" text-anchor="middle">50</text>
<text x="714.55" y="2503.5" text-anchor="middle">100</text>
<text x="893.95" y="2503.5" text-anchor="middle">150</text>
<text x="1073.35" y="2503.5" text-anchor="middle">200</text>
<text x="1252.75" y="2503.5" text-anchor="middle">250</text>
<text x="1432.15" y="2503.5" text-anchor="middle">300</text>
<text x="1611.55" y="2503.5" text-anchor="middle">350</text>
</g>
<text font-family="Liberation Sans, Arial, Helvetica, sans-serif" font-size="59.4" x="1020.2" y="2585.8" text-anchor="middle">Time, min</text>
<text font-family="Liberation Sans, Arial, Helvetica, sans-serif" font-size="73" font-weight="bold" letter-spacing="1.6" x="1381.3" y="1416" text-anchor="middle">(b)</text>
<text font-family="Liberation Sans, Arial, Helvetica, sans-serif" font-size="74.2" transform="translate(167,2218.3) rotate(-90)">Survived Ratio, %</text>
<g clip-path="url(#clipB)">
<path d="M337.1,1528.7 L343.6,1527.6 L350.1,1526.5 L356.6,1525.5 L363.2,1524.4 L369.7,1523.4 L376.2,1522.3 L382.8,1521.3 L389.3,1520.3 L395.8,1519.3 L402.4,1518.4 L408.9,1517.4 L415.5,1516.4 L422.0,1515.5 L428.5,1514.6 L435.1,1513.7 L441.6,1512.7 L448.2,1511.9 L454.7,1511.0 L461.2,1510.1 L467.8,1509.2 L474.3,1508.4 L480.9,1507.6 L487.4,1506.7 L494.0,1505.9 L500.5,1505.1 L507.1,1504.3 L513.6,1503.6 L520.2,1502.8 L526.8,1502.0 L533.3,1501.3 L539.9,1500.5 L546.4,1499.8 L553.0,1499.1 L559.5,1498.4 L566.1,1497.7 L572.7,1497.0 L579.2,1496.3 L585.8,1495.7 L592.4,1495.0 L598.9,1494.4 L605.5,1493.7 L612.1,1493.1 L618.6,1492.5 L625.2,1491.9 L631.8,1491.3 L638.3,1490.7 L644.9,1490.1 L651.5,1489.6 L658.0,1489.0 L664.6,1488.5 L671.2,1487.9 L677.8,1487.4 L684.3,1486.9 L690.9,1486.4 L697.5,1485.9 L704.1,1485.4 L710.6,1484.9 L717.2,1484.4 L723.8,1483.9 L730.4,1483.5 L737.0,1483.0 L743.5,1482.6 L750.1,1482.1 L756.7,1481.7 L763.3,1481.3 L769.9,1480.9 L776.4,1480.5 L783.0,1480.1 L789.6,1479.7 L796.2,1479.3 L802.8,1479.0 L809.4,1478.6 L816.0,1478.2 L822.6,1477.9 L829.1,1477.5 L835.7,1477.2 L842.3,1476.9 L848.9,1476.6 L855.5,1476.3 L862.1,1475.9 L868.7,1475.6 L875.3,1475.4 L881.9,1475.1 L888.5,1474.8 L895.0,1474.5 L901.6,1474.3 L908.2,1474.0 L914.8,1473.8 L921.4,1473.5 L928.0,1473.3 L934.6,1473.0 L941.2,1472.8 L947.8,1472.6 L954.4,1472.4 L961.0,1472.2 L967.6,1472.0 L974.2,1471.8 L980.8,1471.6 L987.4,1471.4 L994.0,1471.2 L1000.6,1471.0 L1007.2,1470.9 L1013.8,1470.7 L1020.4,1470.5 L1027.0,1470.4 L1033.6,1470.2 L1040.2,1470.1 L1046.8,1470.0 L1053.4,1469.8 L1060.0,1469.7 L1066.6,1469.6 L1073.2,1469.5 L1079.8,1469.3 L1086.4,1469.2 L1093.0,1469.1 L1099.6,1469.0 L1106.2,1468.9 L1112.8,1468.8 L1119.4,1468.8 L1126.0,1468.7 L1132.6,1468.6 L1139.2,1468.5 L1145.8,1468.4 L1152.4,1468.4 L1159.0,1468.3 L1165.6,1468.2 L1172.2,1468.2 L1178.9,1468.1 L1185.5,1468.1 L1192.1,1468.0 L1198.7,1468.0 L1205.3,1468.0 L1211.9,1467.9 L1218.5,1467.9 L1225.1,1467.8 L1231.7,1467.8 L1238.3,1467.8 L1244.9,1467.8 L1251.5,1467.8 L1258.1,1467.7 L1264.7,1467.7 L1271.3,1467.7 L1277.9,1467.7 L1284.5,1467.7 L1291.1,1467.7 L1297.7,1467.7 L1304.3,1467.7 L1310.9,1467.7 L1317.5,1467.7 L1324.1,1467.7 L1330.7,1467.7 L1337.3,1467.7 L1344.0,1467.7 L1350.6,1467.7 L1357.2,1467.7 L1363.8,1467.7 L1370.4,1467.8 L1377.0,1467.8 L1383.6,1467.8 L1390.2,1467.8 L1396.8,1467.8 L1403.4,1467.8 L1410.0,1467.9 L1416.6,1467.9 L1423.2,1467.9 L1429.8,1467.9 L1436.4,1468.0 L1443.0,1468.0 L1449.6,1468.0 L1456.2,1468.0 L1462.8,1468.1 L1469.4,1468.1 L1476.0,1468.1 L1482.6,1468.1 L1489.2,1468.2 L1495.8,1468.2 L1502.4,1468.2 L1509.0,1468.3 L1515.6,1468.3 L1522.2,1468.3 L1528.7,1468.3 L1535.3,1468.4 L1541.9,1468.4 L1548.5,1468.4 L1555.1,1468.4 L1561.7,1468.4 L1568.3,1468.5 L1574.9,1468.5 L1581.5,1468.5 L1588.1,1468.5 L1594.7,1468.5 L1601.3,1468.6 L1607.9,1468.6 L1614.5,1468.6 L1621.0,1468.6 L1627.6,1468.6 L1634.2,1468.6 L1640.8,1468.6 L1647.4,1468.6" fill="none" stroke="#000" stroke-width="4.8" stroke-linejoin="round"/>
<circle cx="337.81" cy="1525.50" r="13.00" fill="#000"/>
<circle cx="356.75" cy="1525.50" r="13.00" fill="#000"/>
<circle cx="786.31" cy="1468.60" r="13.00" fill="#000"/>
<circle cx="1216.87" cy="1468.60" r="13.00" fill="#000"/>
<circle cx="1647.43" cy="1468.90" r="13.00" fill="#000"/>
<path d="M337.8,2175.5 L344.5,2176.3 L351.2,2177.1 L357.9,2177.8 L364.6,2178.6 L371.3,2179.3 L378.0,2180.0 L384.8,2180.7 L391.5,2181.3 L398.2,2182.0 L404.9,2182.6 L411.6,2183.2 L418.4,2183.8 L425.1,2184.4 L431.8,2184.9 L438.5,2185.4 L445.3,2185.9 L452.0,2186.4 L458.7,2186.9 L465.5,2187.4 L472.2,2187.8 L478.9,2188.2 L485.7,2188.6 L492.4,2188.9 L499.1,2189.3 L505.9,2189.6 L512.6,2189.9 L519.4,2190.2 L526.1,2190.5 L532.8,2190.7 L539.6,2190.9 L546.3,2191.1 L553.0,2191.3 L559.8,2191.5 L566.5,2191.6 L573.3,2191.7 L580.0,2191.8 L586.7,2191.9 L593.5,2192.0 L600.2,2192.0 L606.9,2192.0 L613.7,2192.0 L620.4,2191.9 L627.1,2191.9 L633.9,2191.8 L640.6,2191.7 L647.3,2191.6 L654.0,2191.4 L660.8,2191.3 L667.5,2191.1 L674.2,2190.9 L680.9,2190.6 L687.7,2190.4 L694.4,2190.1 L701.1,2189.8 L707.8,2189.5 L714.5,2189.1 L721.2,2188.7 L728.0,2188.3 L734.7,2187.9 L741.4,2187.5 L748.1,2187.0 L754.8,2186.5 L761.5,2186.0 L768.2,2185.4 L774.9,2184.9 L781.6,2184.3 L788.2,2183.7 L794.9,2183.1 L801.6,2182.4 L808.3,2181.7 L815.0,2181.0 L821.6,2180.3 L828.3,2179.5 L835.0,2178.7 L841.6,2177.9 L848.3,2177.1 L855.0,2176.2 L861.6,2175.4 L868.3,2174.5 L874.9,2173.5 L881.6,2172.6 L888.2,2171.6 L894.8,2170.6 L901.5,2169.6 L908.1,2168.5 L914.7,2167.5 L921.4,2166.4 L928.0,2165.3 L934.6,2164.2 L941.2,2163.0 L947.8,2161.8 L954.4,2160.6 L961.0,2159.4 L967.6,2158.2 L974.2,2156.9 L980.8,2155.7 L987.4,2154.4 L994.0,2153.1 L1000.6,2151.7 L1007.2,2150.4 L1013.8,2149.0 L1020.4,2147.6 L1026.9,2146.2 L1033.5,2144.8 L1040.1,2143.4 L1046.7,2141.9 L1053.2,2140.4 L1059.8,2139.0 L1066.3,2137.4 L1072.9,2135.9 L1079.5,2134.4 L1086.0,2132.8 L1092.6,2131.3 L1099.1,2129.7 L1105.6,2128.1 L1112.2,2126.5 L1118.7,2124.8 L1125.3,2123.2 L1131.8,2121.5 L1138.3,2119.9 L1144.8,2118.2 L1151.4,2116.5 L1157.9,2114.8 L1164.4,2113.0 L1170.9,2111.3 L1177.4,2109.5 L1184.0,2107.8 L1190.5,2106.0 L1197.0,2104.2 L1203.5,2102.4 L1210.0,2100.6 L1216.5,2098.8 L1223.0,2097.0 L1229.5,2095.1 L1236.0,2093.3 L1242.5,2091.4 L1248.9,2089.6 L1255.4,2087.7 L1261.9,2085.8 L1268.4,2083.9 L1274.9,2082.0 L1281.3,2080.1 L1287.8,2078.2 L1294.3,2076.2 L1300.8,2074.3 L1307.2,2072.4 L1313.7,2070.4 L1320.1,2068.5 L1326.6,2066.5 L1333.1,2064.5 L1339.5,2062.5 L1346.0,2060.6 L1352.4,2058.6 L1358.9,2056.6 L1365.3,2054.6 L1371.8,2052.6 L1378.2,2050.6 L1384.6,2048.6 L1391.1,2046.6 L1397.5,2044.5 L1404.0,2042.5 L1410.4,2040.5 L1416.8,2038.5 L1423.2,2036.4 L1429.7,2034.4 L1436.1,2032.3 L1442.5,2030.3 L1448.9,2028.3 L1455.4,2026.2 L1461.8,2024.2 L1468.2,2022.1 L1474.6,2020.1 L1481.0,2018.0 L1487.4,2016.0 L1493.8,2013.9 L1500.2,2011.9 L1506.6,2009.8 L1513.0,2007.8 L1519.5,2005.8 L1525.9,2003.7 L1532.2,2001.7 L1538.6,1999.6 L1545.0,1997.6 L1551.4,1995.5 L1557.8,1993.5 L1564.2,1991.5 L1570.6,1989.4 L1577.0,1987.4 L1583.4,1985.4 L1589.8,1983.4 L1596.1,1981.4 L1602.5,1979.3 L1608.9,1977.3 L1615.3,1975.3 L1621.6,1973.3 L1628.0,1971.3 L1634.4,1969.4 L1640.8,1967.4 L1647.1,1965.4" fill="none" stroke="#000" stroke-width="4.8" stroke-linejoin="round"/>
<path d="M356.95,2161.35 L372.15,2187.68 L341.75,2187.68 Z" fill="#fff" stroke="#000" stroke-width="2.2" stroke-linejoin="miter"/>
<path d="M786.31,2189.95 L801.51,2216.28 L771.11,2216.28 Z" fill="#fff" stroke="#000" stroke-width="2.2" stroke-linejoin="miter"/>
<path d="M1216.87,2086.25 L1232.07,2112.58 L1201.67,2112.58 Z" fill="#fff" stroke="#000" stroke-width="2.2" stroke-linejoin="miter"/>
<path d="M1647.43,1948.15 L1662.63,1974.48 L1632.23,1974.48 Z" fill="#fff" stroke="#000" stroke-width="2.2" stroke-linejoin="miter"/>
<path d="M338.0,2181.3 L344.7,2182.0 L351.3,2182.7 L358.0,2183.4 L364.7,2184.1 L371.3,2184.8 L378.0,2185.5 L384.7,2186.2 L391.4,2186.9 L398.0,2187.6 L404.7,2188.3 L411.4,2188.9 L418.1,2189.6 L424.8,2190.2 L431.5,2190.9 L438.2,2191.5 L444.9,2192.1 L451.6,2192.8 L458.3,2193.4 L465.0,2194.0 L471.8,2194.6 L478.5,2195.2 L485.2,2195.7 L491.9,2196.3 L498.6,2196.9 L505.4,2197.4 L512.1,2197.9 L518.8,2198.5 L525.6,2199.0 L532.3,2199.5 L539.0,2200.0 L545.8,2200.5 L552.5,2200.9 L559.2,2201.4 L566.0,2201.8 L572.7,2202.3 L579.5,2202.7 L586.2,2203.1 L593.0,2203.5 L599.7,2203.8 L606.4,2204.2 L613.2,2204.5 L619.9,2204.9 L626.7,2205.2 L633.4,2205.5 L640.2,2205.8 L646.9,2206.0 L653.7,2206.3 L660.4,2206.5 L667.2,2206.7 L673.9,2206.9 L680.7,2207.1 L687.4,2207.3 L694.2,2207.4 L700.9,2207.5 L707.7,2207.6 L714.4,2207.7 L721.2,2207.8 L727.9,2207.8 L734.7,2207.9 L741.4,2207.9 L748.2,2207.9 L754.9,2207.8 L761.6,2207.8 L768.4,2207.7 L775.1,2207.6 L781.9,2207.5 L788.6,2207.3 L795.3,2207.2 L802.1,2207.0 L808.8,2206.8 L815.5,2206.5 L822.3,2206.3 L829.0,2206.0 L835.7,2205.7 L842.4,2205.4 L849.1,2205.0 L855.9,2204.6 L862.6,2204.2 L869.3,2203.8 L876.0,2203.3 L882.7,2202.8 L889.4,2202.3 L896.1,2201.8 L902.8,2201.2 L909.5,2200.6 L916.2,2200.0 L922.9,2199.4 L929.6,2198.7 L936.3,2198.0 L943.0,2197.2 L949.6,2196.5 L956.3,2195.7 L963.0,2194.9 L969.7,2194.1 L976.3,2193.2 L983.0,2192.3 L989.6,2191.4 L996.3,2190.5 L1003.0,2189.5 L1009.6,2188.5 L1016.2,2187.5 L1022.9,2186.4 L1029.5,2185.4 L1036.2,2184.3 L1042.8,2183.2 L1049.4,2182.0 L1056.0,2180.8 L1062.6,2179.6 L1069.3,2178.4 L1075.9,2177.2 L1082.5,2175.9 L1089.1,2174.6 L1095.7,2173.3 L1102.3,2171.9 L1108.8,2170.6 L1115.4,2169.2 L1122.0,2167.7 L1128.6,2166.3 L1135.1,2164.8 L1141.7,2163.3 L1148.3,2161.8 L1154.8,2160.3 L1161.4,2158.7 L1167.9,2157.1 L1174.4,2155.5 L1181.0,2153.8 L1187.5,2152.2 L1194.0,2150.5 L1200.6,2148.8 L1207.1,2147.1 L1213.6,2145.3 L1220.1,2143.6 L1226.6,2141.8 L1233.1,2140.0 L1239.6,2138.1 L1246.1,2136.3 L1252.5,2134.4 L1259.0,2132.5 L1265.5,2130.6 L1272.0,2128.7 L1278.4,2126.8 L1284.9,2124.8 L1291.3,2122.8 L1297.8,2120.9 L1304.2,2118.9 L1310.7,2116.8 L1317.1,2114.8 L1323.6,2112.7 L1330.0,2110.7 L1336.4,2108.6 L1342.8,2106.5 L1349.3,2104.4 L1355.7,2102.3 L1362.1,2100.2 L1368.5,2098.0 L1374.9,2095.8 L1381.3,2093.7 L1387.7,2091.5 L1394.1,2089.3 L1400.5,2087.1 L1406.8,2084.9 L1413.2,2082.7 L1419.6,2080.5 L1426.0,2078.2 L1432.3,2076.0 L1438.7,2073.7 L1445.1,2071.4 L1451.4,2069.2 L1457.8,2066.9 L1464.1,2064.6 L1470.5,2062.3 L1476.8,2060.0 L1483.2,2057.7 L1489.5,2055.4 L1495.9,2053.1 L1502.2,2050.8 L1508.5,2048.5 L1514.9,2046.2 L1521.2,2043.8 L1527.5,2041.5 L1533.8,2039.2 L1540.2,2036.9 L1546.5,2034.5 L1552.8,2032.2 L1559.1,2029.9 L1565.4,2027.5 L1571.7,2025.2 L1578.0,2022.9 L1584.3,2020.5 L1590.6,2018.2 L1596.9,2015.9 L1603.2,2013.5 L1609.5,2011.2 L1615.8,2008.9 L1622.1,2006.6 L1628.4,2004.3 L1634.7,2002.0 L1641.0,1999.7 L1647.3,1997.4" fill="none" stroke="#000" stroke-width="4.8" stroke-linejoin="round"/>
<path d="M356.95,2166.15 L372.15,2192.48 L341.75,2192.48 Z" fill="#000"/>
<path d="M786.31,2210.75 L801.51,2237.08 L771.11,2237.08 Z" fill="#000"/>
<path d="M1216.87,2144.55 L1232.07,2170.88 L1201.67,2170.88 Z" fill="#000"/>
<path d="M1647.43,1980.35 L1662.63,2006.68 L1632.23,2006.68 Z" fill="#000"/>
<path d="M338.3,2185.5 L344.9,2186.8 L351.5,2188.1 L358.1,2189.4 L364.7,2190.7 L371.3,2192.0 L377.9,2193.4 L384.5,2194.7 L391.2,2196.0 L397.8,2197.3 L404.4,2198.7 L411.0,2200.0 L417.7,2201.3 L424.3,2202.6 L431.0,2204.0 L437.6,2205.3 L444.3,2206.6 L450.9,2207.9 L457.6,2209.2 L464.3,2210.5 L470.9,2211.9 L477.6,2213.2 L484.3,2214.4 L491.0,2215.7 L497.7,2217.0 L504.4,2218.3 L511.1,2219.6 L517.8,2220.9 L524.5,2222.1 L531.2,2223.4 L537.9,2224.6 L544.7,2225.9 L551.4,2227.1 L558.1,2228.3 L564.9,2229.5 L571.6,2230.7 L578.3,2231.9 L585.1,2233.1 L591.9,2234.3 L598.6,2235.4 L605.4,2236.6 L612.1,2237.7 L618.9,2238.8 L625.7,2239.9 L632.5,2241.0 L639.3,2242.0 L646.0,2243.1 L652.8,2244.1 L659.6,2245.1 L666.4,2246.1 L673.2,2247.1 L680.0,2248.0 L686.8,2248.9 L693.6,2249.9 L700.4,2250.7 L707.2,2251.6 L714.0,2252.4 L720.8,2253.3 L727.6,2254.0 L734.4,2254.8 L741.3,2255.5 L748.1,2256.2 L754.9,2256.9 L761.7,2257.6 L768.5,2258.2 L775.3,2258.8 L782.1,2259.4 L789.0,2259.9 L795.8,2260.4 L802.6,2260.9 L809.4,2261.3 L816.2,2261.7 L823.0,2262.1 L829.8,2262.4 L836.7,2262.8 L843.5,2263.0 L850.3,2263.3 L857.1,2263.4 L863.9,2263.6 L870.7,2263.7 L877.5,2263.8 L884.3,2263.8 L891.1,2263.8 L897.9,2263.8 L904.7,2263.7 L911.5,2263.6 L918.3,2263.4 L925.1,2263.2 L931.9,2263.0 L938.7,2262.7 L945.5,2262.4 L952.2,2262.0 L959.0,2261.6 L965.8,2261.2 L972.6,2260.7 L979.3,2260.2 L986.1,2259.7 L992.9,2259.1 L999.6,2258.4 L1006.4,2257.8 L1013.1,2257.1 L1019.9,2256.3 L1026.6,2255.5 L1033.4,2254.7 L1040.1,2253.9 L1046.8,2253.0 L1053.5,2252.1 L1060.3,2251.1 L1067.0,2250.1 L1073.7,2249.1 L1080.4,2248.0 L1087.1,2246.9 L1093.8,2245.8 L1100.5,2244.6 L1107.2,2243.4 L1113.9,2242.2 L1120.6,2240.9 L1127.2,2239.6 L1133.9,2238.2 L1140.6,2236.9 L1147.2,2235.5 L1153.9,2234.0 L1160.5,2232.6 L1167.2,2231.1 L1173.8,2229.5 L1180.4,2227.9 L1187.0,2226.3 L1193.7,2224.7 L1200.3,2223.1 L1206.9,2221.4 L1213.5,2219.6 L1220.0,2217.9 L1226.6,2216.1 L1233.2,2214.3 L1239.8,2212.4 L1246.3,2210.6 L1252.9,2208.7 L1259.4,2206.7 L1266.0,2204.8 L1272.5,2202.8 L1279.0,2200.7 L1285.5,2198.7 L1292.0,2196.6 L1298.5,2194.5 L1305.0,2192.4 L1311.5,2190.2 L1318.0,2188.0 L1324.5,2185.8 L1330.9,2183.6 L1337.4,2181.3 L1343.8,2179.0 L1350.2,2176.7 L1356.7,2174.3 L1363.1,2172.0 L1369.5,2169.6 L1375.9,2167.1 L1382.3,2164.7 L1388.7,2162.2 L1395.0,2159.7 L1401.4,2157.2 L1407.7,2154.6 L1414.1,2152.0 L1420.4,2149.4 L1426.7,2146.8 L1433.0,2144.2 L1439.4,2141.5 L1445.6,2138.8 L1451.9,2136.1 L1458.2,2133.4 L1464.5,2130.6 L1470.7,2127.8 L1476.9,2125.0 L1483.2,2122.2 L1489.4,2119.3 L1495.6,2116.5 L1501.8,2113.6 L1508.0,2110.7 L1514.2,2107.7 L1520.3,2104.8 L1526.5,2101.8 L1532.6,2098.8 L1538.7,2095.8 L1544.8,2092.8 L1550.9,2089.7 L1557.0,2086.7 L1563.1,2083.6 L1569.2,2080.5 L1575.2,2077.3 L1581.3,2074.2 L1587.3,2071.0 L1593.3,2067.8 L1599.3,2064.6 L1605.3,2061.4 L1611.3,2058.2 L1617.3,2054.9 L1623.2,2051.7 L1629.2,2048.4 L1635.1,2045.1 L1641.0,2041.8 L1646.9,2038.4" fill="none" stroke="#000" stroke-width="4.8" stroke-linejoin="round"/>
<path d="M356.95,2208.15 L372.15,2181.82 L341.75,2181.82 Z" fill="#fff" stroke="#000" stroke-width="2.2" stroke-linejoin="miter"/>
<path d="M786.31,2296.45 L801.51,2270.12 L771.11,2270.12 Z" fill="#fff" stroke="#000" stroke-width="2.2" stroke-linejoin="miter"/>
<path d="M1216.87,2269.35 L1232.07,2243.02 L1201.67,2243.02 Z" fill="#fff" stroke="#000" stroke-width="2.2" stroke-linejoin="miter"/>
<path d="M1647.43,2057.15 L1662.63,2030.82 L1632.23,2030.82 Z" fill="#fff" stroke="#000" stroke-width="2.2" stroke-linejoin="miter"/>
</g>
</svg></body></html>
